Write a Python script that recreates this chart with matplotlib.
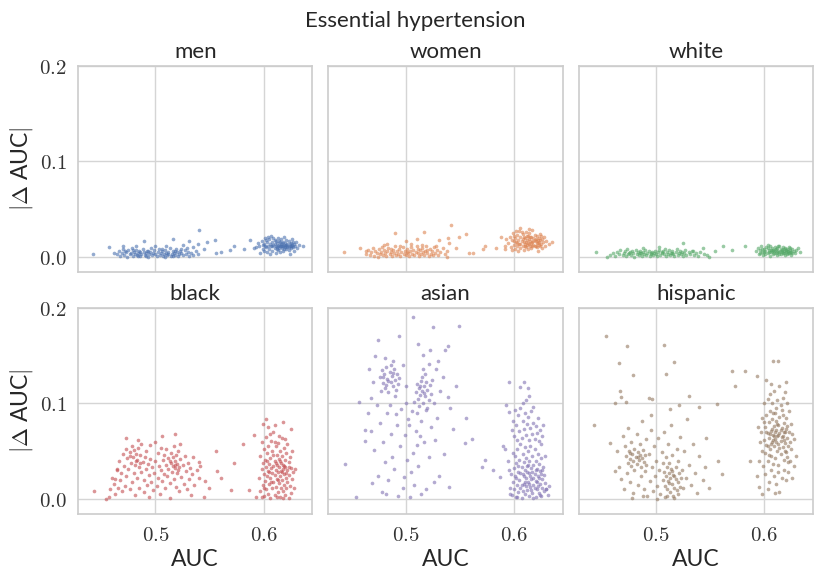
import matplotlib
import matplotlib.pyplot as plt
import seaborn as sns
from matplotlib.ticker import FuncFormatter

matplotlib.use("Agg")

groups = ["men", "women", "white", "black", "asian", "hispanic"]
title = "Essential hypertension"

# (AUC, |delta AUC|), one list per subgroup
men = [
    (0.464, 0.003), (0.466, 0.006), (0.467, 0.001), (0.469, 0.004), (0.470, 0.008), (0.471, 0.002), (0.472, 0.006),
    (0.473, 0.005), (0.474, 0.000), (0.475, 0.007), (0.476, 0.003), (0.477, 0.004), (0.478, 0.009), (0.479, 0.001),
    (0.479, 0.007), (0.480, 0.005), (0.481, 0.003), (0.482, 0.007), (0.483, 0.002), (0.484, 0.004), (0.484, 0.001),
    (0.485, 0.006), (0.486, 0.001), (0.486, 0.005), (0.487, 0.003), (0.488, 0.008), (0.489, 0.005), (0.490, 0.002),
    (0.491, 0.004), (0.491, 0.001), (0.492, 0.006), (0.493, 0.000), (0.493, 0.006), (0.494, 0.003), (0.495, 0.005),
    (0.496, 0.009), (0.497, 0.002), (0.498, 0.004), (0.499, 0.007), (0.500, 0.003), (0.501, 0.001), (0.502, 0.005),
    (0.503, 0.008), (0.504, 0.002), (0.505, 0.004), (0.506, 0.006), (0.506, 0.008), (0.507, 0.001), (0.508, 0.003),
    (0.509, 0.007), (0.509, 0.000), (0.510, 0.004), (0.511, 0.002), (0.512, 0.005), (0.512, 0.003), (0.513, 0.009),
    (0.514, 0.001), (0.515, 0.003), (0.516, 0.006), (0.516, 0.001), (0.517, 0.004), (0.518, 0.002), (0.518, 0.006),
    (0.519, 0.008), (0.520, 0.005), (0.521, 0.001), (0.522, 0.003), (0.523, 0.006), (0.524, 0.004), (0.524, 0.008),
    (0.525, 0.002), (0.527, 0.007), (0.528, 0.003), (0.529, 0.009), (0.530, 0.005), (0.531, 0.001), (0.533, 0.004),
    (0.535, 0.002), (0.537, 0.006), (0.539, 0.003),
    (0.442, 0.003), (0.457, 0.010), (0.462, 0.004), (0.470, 0.011), (0.482, 0.012), (0.489, 0.017), (0.500, 0.012),
    (0.510, 0.011), (0.516, 0.019), (0.525, 0.013), (0.531, 0.017), (0.535, 0.010), (0.539, 0.014), (0.540, 0.028),
    (0.545, 0.008), (0.548, 0.016), (0.555, 0.018), (0.556, 0.004), (0.561, 0.005), (0.569, 0.007), (0.573, 0.012),
    (0.582, 0.008), (0.587, 0.018), (0.591, 0.009),
    (0.596, 0.012), (0.598, 0.017), (0.599, 0.008), (0.600, 0.014), (0.601, 0.020), (0.602, 0.010), (0.603, 0.005),
    (0.603, 0.016), (0.604, 0.012), (0.605, 0.019), (0.605, 0.008), (0.606, 0.014), (0.607, 0.011), (0.607, 0.022),
    (0.608, 0.006), (0.608, 0.016), (0.609, 0.013), (0.610, 0.009), (0.610, 0.018), (0.611, 0.012), (0.611, 0.004),
    (0.612, 0.015), (0.612, 0.010), (0.613, 0.020), (0.613, 0.007), (0.614, 0.013), (0.614, 0.017), (0.615, 0.011),
    (0.615, 0.005), (0.616, 0.014), (0.616, 0.019), (0.617, 0.009), (0.617, 0.012), (0.618, 0.016), (0.618, 0.006),
    (0.619, 0.013), (0.619, 0.021), (0.620, 0.010), (0.620, 0.015), (0.621, 0.008), (0.621, 0.018), (0.622, 0.012),
    (0.622, 0.014), (0.623, 0.007), (0.623, 0.017), (0.624, 0.011), (0.624, 0.003), (0.625, 0.015), (0.625, 0.009),
    (0.626, 0.013), (0.626, 0.019), (0.627, 0.010), (0.628, 0.014), (0.628, 0.006), (0.629, 0.012), (0.630, 0.016),
    (0.631, 0.009), (0.633, 0.013), (0.636, 0.011), (0.597, 0.004), (0.600, 0.006), (0.602, 0.018), (0.604, 0.021),
    (0.606, 0.003), (0.609, 0.020), (0.611, 0.017), (0.613, 0.012), (0.615, 0.016), (0.617, 0.015), (0.619, 0.008),
    (0.621, 0.013), (0.623, 0.010), (0.625, 0.012), (0.627, 0.016), (0.599, 0.013), (0.601, 0.011), (0.608, 0.011),
    (0.610, 0.014), (0.612, 0.008), (0.614, 0.009), (0.616, 0.011), (0.618, 0.012), (0.620, 0.012), (0.622, 0.010),
    (0.624, 0.014), (0.626, 0.011), (0.593, 0.010), (0.595, 0.015),
]

women = [
    (0.463, 0.003), (0.465, 0.007), (0.467, 0.002), (0.468, 0.005), (0.470, 0.009), (0.471, 0.001), (0.472, 0.006),
    (0.473, 0.004), (0.474, 0.000), (0.475, 0.008), (0.476, 0.003), (0.477, 0.005), (0.478, 0.010), (0.479, 0.002),
    (0.480, 0.007), (0.481, 0.004), (0.482, 0.001), (0.483, 0.006), (0.484, 0.009), (0.485, 0.003), (0.486, 0.005),
    (0.487, 0.001), (0.488, 0.007), (0.489, 0.004), (0.490, 0.011), (0.491, 0.002), (0.492, 0.006), (0.493, 0.003),
    (0.494, 0.008), (0.495, 0.001), (0.496, 0.005), (0.497, 0.010), (0.498, 0.003), (0.499, 0.006), (0.500, 0.002),
    (0.501, 0.008), (0.502, 0.004), (0.503, 0.001), (0.504, 0.006), (0.505, 0.010), (0.506, 0.003), (0.507, 0.007),
    (0.508, 0.002), (0.509, 0.005), (0.510, 0.012), (0.511, 0.004), (0.512, 0.001), (0.513, 0.007), (0.514, 0.003),
    (0.515, 0.009), (0.516, 0.005), (0.517, 0.002), (0.518, 0.006), (0.519, 0.011), (0.520, 0.004), (0.521, 0.001),
    (0.522, 0.008), (0.523, 0.003), (0.524, 0.006), (0.525, 0.002), (0.526, 0.010), (0.527, 0.004), (0.529, 0.007),
    (0.530, 0.002), (0.532, 0.005), (0.534, 0.009), (0.536, 0.003), (0.538, 0.006), (0.480, 0.013), (0.495, 0.012),
    (0.505, 0.014), (0.515, 0.013), (0.528, 0.012), (0.486, 0.008), (0.501, 0.005), (0.511, 0.008), (0.520, 0.007),
    (0.443, 0.005), (0.458, 0.009), (0.463, 0.006), (0.483, 0.014), (0.490, 0.025), (0.500, 0.017), (0.510, 0.019),
    (0.517, 0.026), (0.531, 0.018), (0.538, 0.000), (0.539, 0.020), (0.540, 0.015), (0.542, 0.034), (0.546, 0.009),
    (0.549, 0.021), (0.556, 0.024), (0.558, 0.004), (0.562, 0.004), (0.571, 0.008), (0.573, 0.012), (0.583, 0.009),
    (0.588, 0.021), (0.592, 0.008),
    (0.594, 0.015), (0.596, 0.021), (0.597, 0.010), (0.598, 0.018), (0.599, 0.025), (0.600, 0.013), (0.601, 0.008),
    (0.601, 0.020), (0.602, 0.016), (0.603, 0.023), (0.603, 0.011), (0.604, 0.018), (0.605, 0.014), (0.605, 0.027),
    (0.606, 0.009), (0.606, 0.021), (0.607, 0.017), (0.608, 0.012), (0.608, 0.024), (0.609, 0.016), (0.609, 0.007),
    (0.610, 0.020), (0.610, 0.014), (0.611, 0.026), (0.611, 0.010), (0.612, 0.018), (0.612, 0.022), (0.613, 0.015),
    (0.613, 0.008), (0.614, 0.019), (0.614, 0.025), (0.615, 0.012), (0.615, 0.017), (0.616, 0.021), (0.616, 0.009),
    (0.617, 0.016), (0.617, 0.028), (0.618, 0.013), (0.618, 0.020), (0.619, 0.011), (0.619, 0.023), (0.620, 0.017),
    (0.620, 0.019), (0.621, 0.010), (0.621, 0.022), (0.622, 0.015), (0.622, 0.006), (0.623, 0.020), (0.623, 0.013),
    (0.624, 0.018), (0.624, 0.024), (0.625, 0.014), (0.626, 0.019), (0.626, 0.009), (0.627, 0.016), (0.628, 0.021),
    (0.629, 0.012), (0.630, 0.017), (0.632, 0.014), (0.635, 0.016), (0.598, 0.007), (0.600, 0.022), (0.602, 0.027),
    (0.604, 0.006), (0.607, 0.026), (0.609, 0.021), (0.611, 0.016), (0.613, 0.022), (0.615, 0.021), (0.617, 0.011),
    (0.619, 0.018), (0.621, 0.015), (0.623, 0.016), (0.625, 0.022), (0.600, 0.017), (0.603, 0.015), (0.606, 0.014),
    (0.608, 0.019), (0.610, 0.011), (0.612, 0.013), (0.614, 0.014), (0.616, 0.015), (0.618, 0.017), (0.620, 0.012),
    (0.622, 0.018), (0.624, 0.011), (0.592, 0.012), (0.593, 0.019), (0.606, 0.030), (0.614, 0.029),
]

white = [
    (0.460, 0.004), (0.462, 0.001), (0.464, 0.005), (0.466, 0.003), (0.467, 0.007), (0.469, 0.002), (0.470, 0.004),
    (0.471, 0.006), (0.472, 0.001), (0.473, 0.008), (0.474, 0.003), (0.476, 0.005), (0.477, 0.002), (0.478, 0.006),
    (0.479, 0.004), (0.480, 0.000), (0.481, 0.007), (0.482, 0.003), (0.483, 0.005), (0.484, 0.002), (0.485, 0.006),
    (0.486, 0.004), (0.487, 0.001), (0.488, 0.005), (0.489, 0.003), (0.490, 0.007), (0.491, 0.002), (0.492, 0.004),
    (0.493, 0.006), (0.494, 0.001), (0.495, 0.003), (0.496, 0.005), (0.497, 0.002), (0.498, 0.004), (0.499, 0.006),
    (0.500, 0.003), (0.501, 0.001), (0.502, 0.005), (0.503, 0.007), (0.504, 0.002), (0.505, 0.004), (0.506, 0.006),
    (0.507, 0.003), (0.508, 0.008), (0.509, 0.001), (0.510, 0.005), (0.511, 0.003), (0.512, 0.007), (0.513, 0.002),
    (0.514, 0.004), (0.515, 0.006), (0.516, 0.003), (0.517, 0.001), (0.518, 0.005), (0.519, 0.008), (0.520, 0.002),
    (0.521, 0.004), (0.522, 0.006), (0.523, 0.003), (0.524, 0.005), (0.525, 0.001), (0.526, 0.004), (0.527, 0.007),
    (0.528, 0.002), (0.530, 0.005), (0.531, 0.003), (0.533, 0.006), (0.535, 0.002), (0.537, 0.004), (0.539, 0.001),
    (0.541, 0.005), (0.544, 0.003), (0.547, 0.002), (0.475, 0.004), (0.485, 0.004), (0.495, 0.004), (0.505, 0.005),
    (0.515, 0.004),
    (0.444, 0.005), (0.455, 0.000), (0.525, 0.015), (0.534, 0.006), (0.543, 0.009), (0.549, 0.000), (0.554, 0.006),
    (0.562, 0.012), (0.570, 0.007), (0.582, 0.012), (0.457, 0.002), (0.503, 0.010), (0.488, 0.009),
    (0.592, 0.006), (0.594, 0.009), (0.595, 0.003), (0.596, 0.007), (0.597, 0.011), (0.598, 0.005), (0.599, 0.002),
    (0.600, 0.008), (0.601, 0.006), (0.602, 0.010), (0.603, 0.004), (0.604, 0.007), (0.605, 0.001), (0.605, 0.012),
    (0.606, 0.005), (0.607, 0.009), (0.608, 0.003), (0.608, 0.007), (0.609, 0.006), (0.610, 0.010), (0.611, 0.004),
    (0.611, 0.008), (0.612, 0.002), (0.613, 0.006), (0.613, 0.011), (0.614, 0.005), (0.615, 0.008), (0.615, 0.003),
    (0.616, 0.007), (0.617, 0.010), (0.617, 0.004), (0.618, 0.006), (0.619, 0.009), (0.619, 0.002), (0.620, 0.005),
    (0.621, 0.008), (0.621, 0.003), (0.622, 0.006), (0.623, 0.010), (0.623, 0.004), (0.624, 0.007), (0.625, 0.005),
    (0.625, 0.002), (0.626, 0.008), (0.627, 0.006), (0.628, 0.004), (0.629, 0.007), (0.631, 0.009), (0.633, 0.005),
    (0.598, 0.008), (0.601, 0.003), (0.603, 0.009), (0.606, 0.007), (0.609, 0.004), (0.612, 0.009), (0.614, 0.003),
    (0.616, 0.005), (0.618, 0.008), (0.620, 0.007), (0.622, 0.004), (0.624, 0.009), (0.626, 0.004), (0.600, 0.005),
    (0.604, 0.005), (0.607, 0.006), (0.610, 0.007), (0.612, 0.005), (0.615, 0.006), (0.618, 0.004), (0.621, 0.006),
    (0.624, 0.005), (0.596, 0.004), (0.603, 0.013), (0.614, 0.012),
]

black = [
    (0.458, 0.010), (0.460, 0.022), (0.462, 0.016), (0.463, 0.005), (0.464, 0.030), (0.465, 0.012), (0.466, 0.040),
    (0.467, 0.020), (0.468, 0.027), (0.469, 0.008), (0.470, 0.047), (0.471, 0.035), (0.472, 0.014), (0.473, 0.052),
    (0.473, 0.024), (0.474, 0.043), (0.475, 0.031), (0.476, 0.010), (0.476, 0.049), (0.477, 0.038), (0.478, 0.018),
    (0.478, 0.055), (0.479, 0.044), (0.480, 0.027), (0.480, 0.051), (0.481, 0.004), (0.481, 0.036), (0.482, 0.047),
    (0.483, 0.022), (0.483, 0.041), (0.484, 0.053), (0.485, 0.012), (0.485, 0.033), (0.486, 0.046), (0.487, 0.028),
    (0.487, 0.058), (0.488, 0.039), (0.489, 0.007), (0.489, 0.020), (0.490, 0.044), (0.491, 0.031), (0.491, 0.050),
    (0.492, 0.015), (0.493, 0.037), (0.494, 0.002), (0.494, 0.025), (0.495, 0.042), (0.496, 0.018), (0.497, 0.033),
    (0.498, 0.009), (0.499, 0.027), (0.500, 0.040), (0.501, 0.014), (0.502, 0.048), (0.502, 0.022), (0.503, 0.035),
    (0.504, 0.005), (0.505, 0.030), (0.505, 0.053), (0.506, 0.019), (0.507, 0.041), (0.508, 0.026), (0.508, 0.046),
    (0.509, 0.011), (0.510, 0.036), (0.510, 0.052), (0.511, 0.024), (0.512, 0.043), (0.512, 0.031), (0.513, 0.001),
    (0.513, 0.017), (0.514, 0.038), (0.514, 0.048), (0.515, 0.028), (0.516, 0.035), (0.516, 0.044), (0.517, 0.021),
    (0.517, 0.055), (0.518, 0.032), (0.518, 0.040), (0.519, 0.013), (0.519, 0.046), (0.520, 0.027), (0.520, 0.037),
    (0.521, 0.050), (0.522, 0.008), (0.522, 0.033), (0.523, 0.042), (0.524, 0.023), (0.525, 0.036), (0.526, 0.016),
    (0.527, 0.045), (0.528, 0.029), (0.529, 0.010), (0.530, 0.038), (0.531, 0.021), (0.532, 0.032), (0.533, 0.004),
    (0.534, 0.026), (0.535, 0.044), (0.536, 0.015), (0.538, 0.030), (0.540, 0.022), (0.486, 0.038), (0.476, 0.045),
    (0.482, 0.040), (0.513, 0.040), (0.518, 0.036), (0.521, 0.030),
    (0.443, 0.008), (0.454, 0.000), (0.457, 0.002), (0.463, 0.021), (0.464, 0.031), (0.473, 0.064), (0.506, 0.066),
    (0.518, 0.068), (0.523, 0.058), (0.540, 0.039), (0.541, 0.035), (0.546, 0.019), (0.549, 0.011), (0.545, 0.002),
    (0.556, 0.050), (0.557, 0.029), (0.561, 0.022), (0.570, 0.009), (0.573, 0.038), (0.581, 0.058), (0.586, 0.009),
    (0.591, 0.067), (0.593, 0.002), (0.484, 0.062), (0.495, 0.057), (0.500, 0.060),
    (0.596, 0.022), (0.597, 0.045), (0.597, 0.008), (0.598, 0.031), (0.598, 0.060), (0.599, 0.015), (0.599, 0.038),
    (0.600, 0.003), (0.600, 0.026), (0.600, 0.052), (0.601, 0.019), (0.601, 0.041), (0.602, 0.010), (0.602, 0.034),
    (0.602, 0.065), (0.603, 0.024), (0.603, 0.048), (0.604, 0.005), (0.604, 0.029), (0.604, 0.056), (0.605, 0.016),
    (0.605, 0.037), (0.606, 0.001), (0.606, 0.043), (0.606, 0.022), (0.607, 0.032), (0.607, 0.061), (0.608, 0.011),
    (0.608, 0.027), (0.608, 0.050), (0.609, 0.035), (0.609, 0.018), (0.609, 0.070), (0.610, 0.004), (0.610, 0.040),
    (0.610, 0.025), (0.611, 0.055), (0.611, 0.030), (0.611, 0.013), (0.612, 0.046), (0.612, 0.021), (0.612, 0.036),
    (0.613, 0.007), (0.613, 0.028), (0.613, 0.059), (0.614, 0.042), (0.614, 0.017), (0.614, 0.033), (0.615, 0.024),
    (0.615, 0.050), (0.615, 0.002), (0.616, 0.038), (0.616, 0.012), (0.616, 0.029), (0.617, 0.064), (0.617, 0.020),
    (0.617, 0.045), (0.618, 0.031), (0.618, 0.008), (0.618, 0.036), (0.619, 0.053), (0.619, 0.015), (0.619, 0.026),
    (0.620, 0.041), (0.620, 0.004), (0.620, 0.033), (0.621, 0.022), (0.621, 0.048), (0.621, 0.011), (0.622, 0.030),
    (0.622, 0.058), (0.622, 0.018), (0.623, 0.039), (0.623, 0.001), (0.623, 0.025), (0.624, 0.044), (0.624, 0.014),
    (0.625, 0.032), (0.625, 0.006), (0.626, 0.021), (0.626, 0.050), (0.627, 0.028), (0.628, 0.011), (0.629, 0.031),
    (0.600, 0.012), (0.603, 0.040), (0.605, 0.028), (0.607, 0.018), (0.609, 0.046), (0.611, 0.038), (0.613, 0.020),
    (0.615, 0.040), (0.617, 0.028), (0.619, 0.035), (0.621, 0.027), (0.623, 0.034), (0.610, 0.060), (0.614, 0.066),
    (0.606, 0.068), (0.620, 0.063), (0.598, 0.002), (0.612, 0.002), (0.618, 0.001),
    (0.599, 0.079), (0.602, 0.084), (0.618, 0.081), (0.625, 0.073), (0.604, 0.075), (0.610, 0.078),
]

asian = [
    (0.476, 0.128), (0.478, 0.135), (0.479, 0.121), (0.480, 0.131), (0.481, 0.116), (0.482, 0.138), (0.483, 0.126),
    (0.484, 0.112), (0.485, 0.133), (0.486, 0.122), (0.487, 0.129), (0.488, 0.118), (0.489, 0.136), (0.490, 0.125),
    (0.491, 0.114), (0.492, 0.131), (0.493, 0.120), (0.479, 0.128), (0.484, 0.124), (0.488, 0.132), (0.482, 0.119),
    (0.490, 0.108), (0.494, 0.127), (0.477, 0.113), (0.486, 0.140),
    (0.509, 0.112), (0.510, 0.120), (0.511, 0.105), (0.512, 0.116), (0.513, 0.109), (0.514, 0.124), (0.515, 0.113),
    (0.516, 0.101), (0.517, 0.118), (0.518, 0.108), (0.519, 0.122), (0.520, 0.114), (0.521, 0.104), (0.522, 0.119),
    (0.523, 0.110), (0.512, 0.097), (0.515, 0.128), (0.518, 0.131), (0.520, 0.095), (0.513, 0.118), (0.517, 0.111),
    (0.508, 0.102), (0.524, 0.125), (0.516, 0.136), (0.510, 0.090),
    (0.507, 0.191), (0.525, 0.180), (0.549, 0.181), (0.494, 0.171), (0.474, 0.167), (0.511, 0.162), (0.539, 0.160),
    (0.522, 0.156), (0.444, 0.037), (0.454, 0.002), (0.457, 0.102), (0.462, 0.072), (0.468, 0.071), (0.462, 0.061),
    (0.556, 0.085), (0.561, 0.063), (0.555, 0.059), (0.544, 0.073), (0.546, 0.118), (0.570, 0.033), (0.573, 0.041),
    (0.581, 0.030), (0.587, 0.023), (0.539, 0.107), (0.535, 0.047), (0.531, 0.024), (0.540, 0.013), (0.519, 0.010),
    (0.504, 0.002), (0.493, 0.003), (0.482, 0.005), (0.469, 0.017), (0.474, 0.024), (0.471, 0.051), (0.487, 0.044),
    (0.498, 0.023), (0.505, 0.028), (0.510, 0.057), (0.513, 0.066), (0.502, 0.084), (0.491, 0.089), (0.485, 0.098),
    (0.468, 0.106), (0.466, 0.136), (0.481, 0.148), (0.488, 0.145), (0.521, 0.141), (0.528, 0.136), (0.516, 0.151),
    (0.536, 0.156), (0.470, 0.122), (0.473, 0.098), (0.476, 0.080), (0.479, 0.060), (0.481, 0.039), (0.483, 0.090),
    (0.486, 0.068), (0.489, 0.031), (0.492, 0.077), (0.495, 0.055), (0.496, 0.094), (0.497, 0.012), (0.499, 0.067),
    (0.500, 0.100), (0.501, 0.041), (0.503, 0.078), (0.506, 0.092), (0.507, 0.048), (0.509, 0.071), (0.511, 0.035),
    (0.514, 0.082), (0.517, 0.060), (0.519, 0.093), (0.521, 0.044), (0.523, 0.075), (0.526, 0.100), (0.527, 0.062),
    (0.529, 0.085), (0.532, 0.113), (0.534, 0.128), (0.530, 0.145), (0.500, 0.118), (0.497, 0.140), (0.472, 0.150),
    (0.465, 0.090), (0.478, 0.007), (0.484, 0.020), (0.508, 0.015), (0.526, 0.018), (0.514, 0.005), (0.541, 0.095),
    (0.598, 0.004), (0.599, 0.018), (0.600, 0.032), (0.600, 0.010), (0.601, 0.045), (0.601, 0.024), (0.602, 0.002),
    (0.602, 0.038), (0.603, 0.015), (0.603, 0.052), (0.604, 0.028), (0.604, 0.007), (0.605, 0.041), (0.605, 0.020),
    (0.606, 0.058), (0.606, 0.012), (0.607, 0.034), (0.607, 0.001), (0.608, 0.026), (0.608, 0.047), (0.609, 0.016),
    (0.609, 0.039), (0.610, 0.005), (0.610, 0.030), (0.610, 0.054), (0.611, 0.022), (0.611, 0.043), (0.612, 0.009),
    (0.612, 0.035), (0.613, 0.018), (0.613, 0.050), (0.614, 0.003), (0.614, 0.027), (0.614, 0.040), (0.615, 0.013),
    (0.615, 0.056), (0.616, 0.032), (0.616, 0.021), (0.617, 0.006), (0.617, 0.045), (0.618, 0.015), (0.618, 0.036),
    (0.619, 0.026), (0.619, 0.052), (0.620, 0.002), (0.620, 0.040), (0.620, 0.019), (0.621, 0.031), (0.621, 0.010),
    (0.622, 0.047), (0.622, 0.024), (0.623, 0.006), (0.623, 0.037), (0.624, 0.016), (0.624, 0.029), (0.625, 0.043),
    (0.625, 0.003), (0.626, 0.021), (0.626, 0.012), (0.627, 0.034), (0.628, 0.008), (0.628, 0.025), (0.629, 0.017),
    (0.630, 0.010), (0.632, 0.014), (0.597, 0.026), (0.596, 0.012), (0.599, 0.048), (0.602, 0.022), (0.604, 0.035),
    (0.606, 0.027), (0.608, 0.008), (0.609, 0.024), (0.611, 0.014), (0.612, 0.028), (0.613, 0.036), (0.615, 0.024),
    (0.616, 0.009), (0.617, 0.028), (0.618, 0.001), (0.619, 0.011), (0.621, 0.018), (0.622, 0.014), (0.623, 0.022),
    (0.624, 0.004), (0.626, 0.030), (0.603, 0.002), (0.607, 0.015), (0.610, 0.018), (0.614, 0.016), (0.618, 0.022),
    (0.620, 0.030), (0.625, 0.026),
    (0.600, 0.066), (0.602, 0.078), (0.603, 0.062), (0.604, 0.088), (0.605, 0.071), (0.606, 0.095), (0.607, 0.064),
    (0.608, 0.082), (0.609, 0.073), (0.610, 0.090), (0.611, 0.067), (0.612, 0.079), (0.613, 0.086), (0.614, 0.062),
    (0.615, 0.074), (0.616, 0.092), (0.617, 0.068), (0.618, 0.080), (0.619, 0.063), (0.620, 0.076), (0.621, 0.069),
    (0.622, 0.085), (0.623, 0.061), (0.624, 0.072), (0.626, 0.066), (0.627, 0.078), (0.599, 0.082), (0.601, 0.093),
    (0.608, 0.101), (0.611, 0.104), (0.598, 0.072), (0.625, 0.058),
    (0.595, 0.122), (0.609, 0.122), (0.613, 0.116), (0.606, 0.117), (0.614, 0.108), (0.593, 0.098), (0.595, 0.091),
    (0.618, 0.096), (0.630, 0.010), (0.590, 0.056), (0.592, 0.052), (0.594, 0.040), (0.595, 0.030), (0.596, 0.005),
    (0.631, 0.004), (0.629, 0.045),
]

hispanic = [
    (0.472, 0.045), (0.474, 0.038), (0.475, 0.050), (0.476, 0.042), (0.477, 0.035), (0.478, 0.047), (0.479, 0.040),
    (0.480, 0.052), (0.481, 0.044), (0.482, 0.037), (0.483, 0.049), (0.484, 0.041), (0.485, 0.046), (0.486, 0.034),
    (0.487, 0.043), (0.488, 0.051), (0.489, 0.039), (0.490, 0.046), (0.491, 0.036), (0.476, 0.048), (0.483, 0.044),
    (0.506, 0.020), (0.507, 0.028), (0.508, 0.014), (0.509, 0.024), (0.510, 0.033), (0.510, 0.010), (0.511, 0.019),
    (0.512, 0.027), (0.513, 0.007), (0.513, 0.022), (0.514, 0.031), (0.515, 0.016), (0.516, 0.025), (0.516, 0.003),
    (0.517, 0.012), (0.518, 0.021), (0.518, 0.034), (0.519, 0.009), (0.520, 0.018), (0.521, 0.027), (0.522, 0.013),
    (0.523, 0.022), (0.512, 0.017), (0.515, 0.029), (0.517, 0.024),
    (0.454, 0.171), (0.473, 0.160), (0.507, 0.161), (0.466, 0.142), (0.479, 0.130), (0.517, 0.143), (0.509, 0.131),
    (0.467, 0.113), (0.468, 0.107), (0.493, 0.106), (0.496, 0.105), (0.462, 0.100), (0.472, 0.102), (0.530, 0.108),
    (0.540, 0.096), (0.521, 0.098), (0.513, 0.094), (0.556, 0.099), (0.443, 0.078), (0.457, 0.059), (0.462, 0.029),
    (0.546, 0.064), (0.557, 0.040), (0.561, 0.026), (0.549, 0.011),
    (0.464, 0.050), (0.466, 0.034), (0.468, 0.021), (0.469, 0.066), (0.470, 0.010), (0.471, 0.056), (0.473, 0.027),
    (0.474, 0.074), (0.476, 0.018), (0.477, 0.060), (0.479, 0.006), (0.480, 0.030), (0.482, 0.068), (0.483, 0.015),
    (0.485, 0.058), (0.486, 0.024), (0.487, 0.082), (0.489, 0.010), (0.490, 0.029), (0.491, 0.063), (0.492, 0.003),
    (0.493, 0.047), (0.494, 0.019), (0.495, 0.072), (0.496, 0.033), (0.497, 0.008), (0.498, 0.055), (0.499, 0.024),
    (0.500, 0.040), (0.501, 0.014), (0.502, 0.064), (0.503, 0.030), (0.504, 0.005), (0.505, 0.049), (0.506, 0.038),
    (0.507, 0.070), (0.508, 0.002), (0.509, 0.044), (0.511, 0.058), (0.512, 0.038), (0.514, 0.078), (0.515, 0.046),
    (0.517, 0.001), (0.519, 0.052), (0.520, 0.040), (0.522, 0.065), (0.524, 0.030), (0.525, 0.011), (0.526, 0.050),
    (0.528, 0.022), (0.529, 0.084), (0.530, 0.036), (0.532, 0.015), (0.534, 0.058), (0.536, 0.027), (0.538, 0.006),
    (0.540, 0.045), (0.543, 0.020), (0.545, 0.033), (0.495, 0.088), (0.488, 0.003), (0.478, 0.001), (0.501, 0.000),
    (0.510, 0.003), (0.520, 0.005),
    (0.600, 0.062), (0.601, 0.075), (0.601, 0.048), (0.602, 0.088), (0.602, 0.057), (0.603, 0.069), (0.603, 0.040),
    (0.604, 0.081), (0.604, 0.064), (0.605, 0.052), (0.605, 0.092), (0.606, 0.071), (0.606, 0.045), (0.607, 0.060),
    (0.607, 0.084), (0.608, 0.037), (0.608, 0.067), (0.609, 0.076), (0.609, 0.055), (0.610, 0.090), (0.610, 0.063),
    (0.610, 0.043), (0.611, 0.072), (0.611, 0.082), (0.612, 0.050), (0.612, 0.066), (0.613, 0.078), (0.613, 0.058),
    (0.613, 0.036), (0.614, 0.086), (0.614, 0.069), (0.615, 0.047), (0.615, 0.061), (0.616, 0.074), (0.616, 0.093),
    (0.617, 0.054), (0.617, 0.066), (0.618, 0.080), (0.618, 0.041), (0.619, 0.070), (0.619, 0.059), (0.620, 0.085),
    (0.620, 0.049), (0.621, 0.064), (0.621, 0.076), (0.622, 0.056), (0.622, 0.039), (0.623, 0.070), (0.624, 0.060),
    (0.625, 0.079), (0.600, 0.081), (0.602, 0.070), (0.604, 0.046), (0.606, 0.058), (0.607, 0.073), (0.608, 0.090),
    (0.609, 0.066), (0.611, 0.060), (0.612, 0.079), (0.614, 0.053), (0.615, 0.072), (0.616, 0.065), (0.617, 0.088),
    (0.618, 0.062), (0.619, 0.050), (0.620, 0.073), (0.621, 0.044), (0.603, 0.056), (0.605, 0.068), (0.610, 0.070),
    (0.613, 0.067), (0.618, 0.070), (0.608, 0.062), (0.611, 0.095), (0.615, 0.098),
    (0.598, 0.050), (0.597, 0.070), (0.599, 0.035), (0.598, 0.085), (0.596, 0.060), (0.600, 0.100), (0.601, 0.026),
    (0.603, 0.105), (0.604, 0.018), (0.605, 0.110), (0.606, 0.030), (0.607, 0.100), (0.609, 0.024), (0.609, 0.113),
    (0.611, 0.016), (0.612, 0.104), (0.613, 0.028), (0.614, 0.118), (0.616, 0.022), (0.617, 0.106), (0.618, 0.030),
    (0.619, 0.112), (0.620, 0.020), (0.621, 0.100), (0.622, 0.028), (0.623, 0.092), (0.624, 0.040), (0.625, 0.052),
    (0.626, 0.068), (0.627, 0.035), (0.606, 0.120), (0.602, 0.125), (0.620, 0.123), (0.595, 0.040), (0.594, 0.075),
    (0.570, 0.134), (0.582, 0.134), (0.573, 0.118), (0.593, 0.129), (0.587, 0.040), (0.593, 0.024), (0.595, 0.013),
    (0.598, 0.005), (0.608, 0.145), (0.613, 0.144), (0.614, 0.007), (0.629, 0.045), (0.627, 0.063), (0.626, 0.022),
    (0.603, 0.010), (0.610, 0.006),
]

data = [men, women, white, black, asian, hispanic]

sns.set_style("whitegrid")
plt.rcParams['font.family'] = ['Lato', 'DejaVu Sans']
plt.rcParams['mathtext.fontset'] = 'cm'

colors = sns.color_palette("deep")
text_color = "#262626"

fig, axes = plt.subplots(2, 3, figsize=(8.3, 5.83), dpi=100, sharex=True, sharey=True)
fig.subplots_adjust(left=0.094, right=0.9795, top=0.8868, bottom=0.1184, wspace=0.068, hspace=0.175)

math_fmt = FuncFormatter(lambda v, pos: r"$%.1f$" % v)

for i, ax in enumerate(axes.flat):
    pts = data[i]
    xs = [p[0] for p in pts]
    ys = [p[1] for p in pts]
    ax.scatter(xs, ys, s=7, color=colors[i], alpha=0.6, linewidths=0)
    ax.set_title(groups[i], fontsize=16, color=text_color, pad=6)
    for sp in ax.spines.values():
        sp.set_color("#cccccc")
        sp.set_linewidth(1.2)
    ax.grid(color="#d5d5d5", linewidth=1.0)
    ax.tick_params(length=0, labelsize=15, pad=8, labelcolor="#333333")

ax = axes[0, 0]
ax.set_xlim(0.4284, 0.645)
ax.set_ylim(-0.0157, 0.2)
ax.set_xticks([0.5, 0.6])
ax.set_yticks([0.0, 0.1, 0.2])
ax.xaxis.set_major_formatter(math_fmt)
ax.yaxis.set_major_formatter(math_fmt)

for ax in axes[1]:
    ax.set_xlabel("AUC", fontsize=16.5, color=text_color, labelpad=3)
for ax in axes[:, 0]:
    ax.set_ylabel(r"$|\Delta$ AUC$|$", fontsize=16.5, color=text_color, labelpad=3)

fig.text(0.5, 1 - 27 / 583, title, ha="center", va="baseline", fontsize=16, color=text_color)

plt.savefig("out.png", dpi=100)
plt.close()
